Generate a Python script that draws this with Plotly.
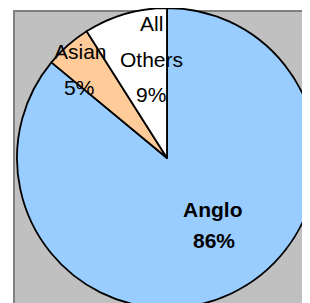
import plotly.graph_objects as go

categories = ["Anglo", "Asian", "All Others"]
values = [86, 5, 9]
colors = ["#99CCFF", "#FFCC99", "#FFFFFF"]
label_lines = [["Anglo", "86%"], ["Asian", "5%"], ["All", "Others", "9%"]]
label_bold = [True, False, False]

W, H = 310, 303
OFF = 8  # page body margin

# label line anchor positions (screen pixels, from top-left)
label_pos = [
    [(212, 209), (214, 240)],
    [(80, 52), (79, 88)],
    [(151, 24), (151, 59), (151, 94)],
]


def px_x(x):
    return (x - OFF) / W


def px_y(y):
    return 1 - (y - OFF) / H


# pie: center on screen and radius
cx, cy, r = 167, 158, 150

fig = go.Figure()
fig.add_trace(go.Pie(
    labels=categories,
    values=values,
    marker=dict(colors=colors, line=dict(color="#000000", width=1.8)),
    sort=False,
    direction="clockwise",
    rotation=0,
    textinfo="none",
    hoverinfo="label+percent",
    showlegend=False,
    domain=dict(x=[px_x(cx - r), px_x(cx + r)], y=[px_y(cy + r), px_y(cy - r)]),
))

annotations = []
for lines, pos, bold in zip(label_lines, label_pos, label_bold):
    for txt, (px, py) in zip(lines, pos):
        annotations.append(dict(
            x=px_x(px), y=px_y(py), xref="paper", yref="paper",
            text=f"<b>{txt}</b>" if bold else txt,
            showarrow=False, xanchor="center", yanchor="middle",
            font=dict(family="Arial, Liberation Sans, sans-serif", size=21, color="#000000"),
        ))

fig.update_layout(
    width=W, height=H,
    margin=dict(l=0, r=0, t=0, b=0),
    paper_bgcolor="#FFFFFF",
    plot_bgcolor="#FFFFFF",
    shapes=[dict(
        type="rect", xref="paper", yref="paper", layer="below",
        x0=px_x(14), x1=1.05, y0=-0.05, y1=px_y(11),
        fillcolor="#C0C0C0", line=dict(color="#808080", width=2),
    )],
    annotations=annotations,
)

fig.write_html("out.html")
